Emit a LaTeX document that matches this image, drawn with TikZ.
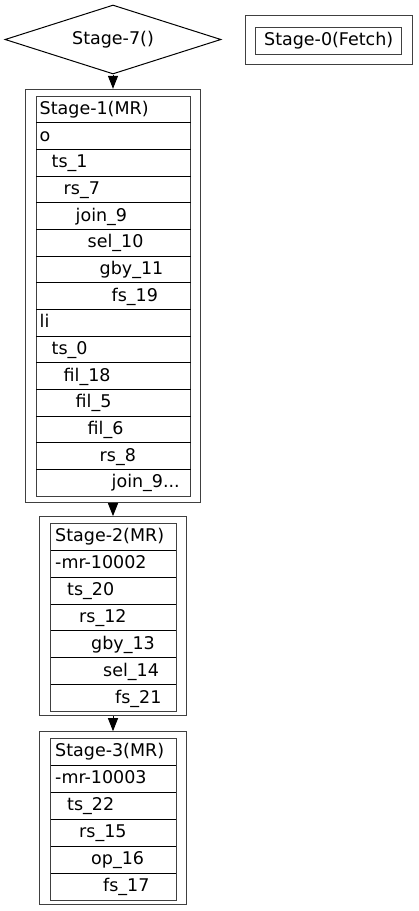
\documentclass[tikz,border=0pt]{standalone}
\usepackage{fontspec}
\setmainfont{DejaVu Sans}
\usetikzlibrary{arrows.meta,shapes.geometric}

\begin{document}
\begin{tikzpicture}[x=1pt,y=-1pt,
    every node/.style={font=\fontsize{17.5}{20}\selectfont},
    stagebox/.style={draw=black!75, line width=1pt, inner sep=0pt},
    cellline/.style={draw=black, line width=1pt},
    oplabel/.style={anchor=base west, inner sep=0pt},
    flow/.style={-{Triangle[length=13pt,width=10pt]}, line width=1pt}]

\useasboundingbox (0,0) rectangle (419,911);

% stage 7 and stage 0
\node[draw, diamond, aspect=3.13, line width=1pt, inner sep=0pt,
      minimum width=216pt, minimum height=69pt] (s7) at (113,39.5) {Stage-7()};

\node[stagebox, minimum width=167pt, minimum height=49pt] (s0) at (329.2,39.5) {};
\node[stagebox, minimum width=146pt, minimum height=27pt] (s0in) at (328.7,40.8) {Stage-0(Fetch)};

% stage 1
\node[stagebox, minimum width=175pt, minimum height=413pt] (s1) at (113,295.8) {};
\draw[stagebox] (36,96) rectangle (190.5,496);
\foreach \lbl/\lvl [count=\i from 0] in {Stage-1(MR)/0, o/0, ts\_1/1, rs\_7/2,
    join\_9/3, sel\_10/4, gby\_11/5, fs\_19/6, li/0, ts\_0/1, fil\_18/2,
    fil\_5/3, fil\_6/4, rs\_8/5, join\_9.{}.{}./6}
{
    \node[oplabel] (s1r\i) at (39.5+12*\lvl, 96+26.667*\i+18.4) {\lbl};
    \ifnum\i>0 \draw[cellline] (36,96+26.667*\i) -- (190.5,96+26.667*\i); \fi
}

% stage 2
\node[stagebox, minimum width=147pt, minimum height=199.3pt] (s2) at (113,616.3) {};
\draw[stagebox] (50.7,523.3) rectangle (176,711.7);
\foreach \lbl/\lvl [count=\i from 0] in {Stage-2(MR)/0, -mr-10002/0, ts\_20/1,
    rs\_12/2, gby\_13/3, sel\_14/4, fs\_21/5}
{
    \node[oplabel] (s2r\i) at (55+12*\lvl, 523.3+26.9*\i+18.5) {\lbl};
    \ifnum\i>0 \draw[cellline] (50.7,523.3+26.9*\i) -- (176,523.3+26.9*\i); \fi
}

% stage 3
\node[stagebox, minimum width=147pt, minimum height=172.6pt] (s3) at (113,818) {};
\draw[stagebox] (50.7,738.3) rectangle (176,900);
\foreach \lbl/\lvl [count=\i from 0] in {Stage-3(MR)/0, -mr-10003/0, ts\_22/1,
    rs\_15/2, op\_16/3, fs\_17/4}
{
    \node[oplabel] (s3r\i) at (55+12*\lvl, 738.3+26.95*\i+18.5) {\lbl};
    \ifnum\i>0 \draw[cellline] (50.7,738.3+26.95*\i) -- (176,738.3+26.95*\i); \fi
}

\draw[flow] (s7) -- (s1);
\draw[flow] (s1) -- (s2);
\draw[flow] (s2) -- (s3);

\end{tikzpicture}
\end{document}
